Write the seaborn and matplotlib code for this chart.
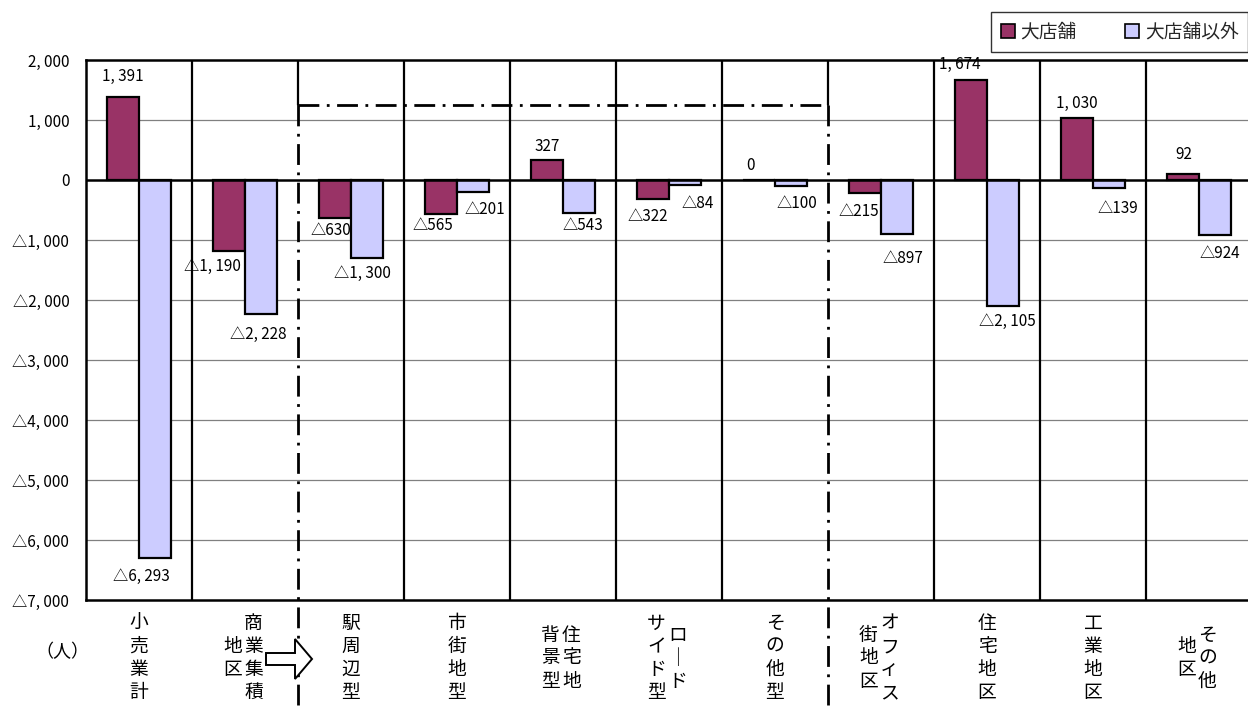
import matplotlib
matplotlib.use("Agg")
import matplotlib.pyplot as plt
from matplotlib.patches import Patch, Polygon
import pandas as pd
import seaborn as sns

# ---- data -------------------------------------------------------------
categories = ["小売業計", "商業集積地区", "駅周辺型", "市街地型", "住宅地背景型",
              "ロードサイド型", "その他型", "オフィス街地区", "住宅地区", "工業地区", "その他地区"]
# vertical label columns, read right column first
label_columns = [["小売業計"], ["商業集積", "地区"], ["駅周辺型"], ["市街地型"],
                 ["住宅地", "背景型"], ["ロード", "サイド型"], ["その他型"],
                 ["オフィス", "街地区"], ["住宅地区"], ["工業地区"], ["その他", "地区"]]
series = ["大店舗", "大店舗以外"]
large_store = [1391, -1190, -630, -565, 327, -322, 0, -215, 1674, 1030, 92]
other_store = [-6293, -2228, -1300, -201, -543, -84, -100, -897, -2105, -139, -924]
y_ticks = list(range(2000, -7001, -1000))
unit_label = "（人）"

# label nudges in pixels (dx, dy downward)
large_offsets = [(0, -20), (-17, 15), (-4, 13), (-8, 12), (0, -14), (-5, 17),
                 (-9, -14), (-6, 19), (-11, -15), (0, -15), (1, -20)]
other_offsets = [(-14, 19), (-3, 21), (-4, 15), (12, 17), (4, 13), (13, 18),
                 (6, 18), (6, 25), (4, 15), (9, 20), (5, 18)]

colors = ["#993366", "#CCCCFF"]

sns.set_theme(style="white")
plt.rcParams["font.family"] = ["Noto Sans CJK JP", "DejaVu Sans"]


def fmt(v):
    s = f"{abs(v):,}".replace(",", ", ")
    return ("△" if v < 0 else "") + s


df = pd.DataFrame({
    "category": categories * 2,
    "series": [series[0]] * len(categories) + [series[1]] * len(categories),
    "value": large_store + other_store,
})

W, H = 1248, 713
fig = plt.figure(figsize=(W / 100, H / 100), dpi=100)
ax = fig.add_axes([86 / W, 1 - 600 / H, 1166 / W, 540 / H])

sns.barplot(data=df, x="category", y="value", hue="series", order=categories,
            hue_order=series, palette=colors, width=0.6, errorbar=None,
            edgecolor="black", linewidth=1.6, saturation=1, legend=False, ax=ax, zorder=3)

ax.set_xlim(-0.5, len(categories) - 0.5)
ax.set_ylim(-7000, 2000)
ax.set_yticks(y_ticks)
ax.set_yticklabels([fmt(v) for v in y_ticks], fontsize=11, color="black")
ax.set_xticks([])
ax.set_xlabel("")
ax.set_ylabel("")
ax.tick_params(axis="y", length=0, pad=12)

for v in y_ticks:
    if v == 0:
        ax.axhline(0, color="black", lw=1.8, zorder=4)
    elif -7000 < v < 2000:
        ax.axhline(v, color="#808080", lw=0.9, zorder=1)

for side in ["top", "left", "bottom"]:
    ax.spines[side].set_color("black")
    ax.spines[side].set_linewidth(1.8)
ax.spines["right"].set_visible(False)

# category separators
dashdot = (7.5, 2.7, 1, 2.7)
dash_bounds = {1.5, 6.5}
for b in [i + 0.5 for i in range(len(categories) - 1)]:
    if b in dash_bounds:
        ax.plot([b, b], [2000, 1250], color="black", lw=1.6, zorder=2)
        ax.plot([b, b], [1250, -8900], color="black", lw=2.0, clip_on=False,
                dashes=dashdot, zorder=2)
    else:
        ax.axvline(b, color="black", lw=1.6, zorder=2)
ax.plot([1.5, 6.5], [1250, 1250], color="black", lw=2.0, dashes=dashdot, zorder=2)

# value labels
for i in range(len(categories)):
    for vals, offs, dxc in ((large_store, large_offsets, -0.15), (other_store, other_offsets, 0.15)):
        v = vals[i]
        dx, dy = offs[i]
        ax.annotate(fmt(v), (i + dxc, v), xytext=(dx, -dy), textcoords="offset pixels",
                    ha="center", va="center", fontsize=11, color="black", zorder=5,
                    annotation_clip=False)

# vertical category labels
char_step = 23 / H
col_step = 21 / W
center_y = 1 - 658 / H
for i, cols in enumerate(label_columns):
    cx = (86 + 106 * i + 53) / W
    n = len(cols)
    if n == 2:
        cx -= 2 / W
    for j, col in enumerate(cols):
        x = cx + ((n - 1) / 2 - j) * col_step
        top = center_y + (len(col) - 1) / 2 * char_step
        for k, ch in enumerate(col):
            fig.text(x, top - k * char_step, "｜" if ch == "ー" else ch, ha="center",
                     va="center", fontsize=13.5, color="black")

fig.text(62 / W, 1 - 652 / H, unit_label, ha="center", va="center", fontsize=13, color="black")

# block arrow between the two groupings
arrow_px = [(266, 653), (295, 653), (295, 639), (312, 659), (295, 679), (295, 665), (266, 665)]
fig.patches.append(Polygon([(x / W, 1 - y / H) for x, y in arrow_px], closed=True,
                           facecolor="white", edgecolor="black", lw=1.4,
                           transform=fig.transFigure, figure=fig, zorder=10))

handles = [Patch(facecolor=c, edgecolor="black", lw=1.2) for c in colors]
leg = fig.legend(handles, series, ncol=2, loc="upper right",
                 bbox_to_anchor=(1.0, 1 - 12 / H), frameon=True, fancybox=False,
                 edgecolor="black", fontsize=13.5, handlelength=0.75, handleheight=0.75,
                 handletextpad=0.3, columnspacing=2.6, borderpad=0.5, borderaxespad=0.0)
leg.get_frame().set_linewidth(1.0)
leg.set_zorder(11)

fig.savefig("out.png", dpi=100, facecolor="white")
